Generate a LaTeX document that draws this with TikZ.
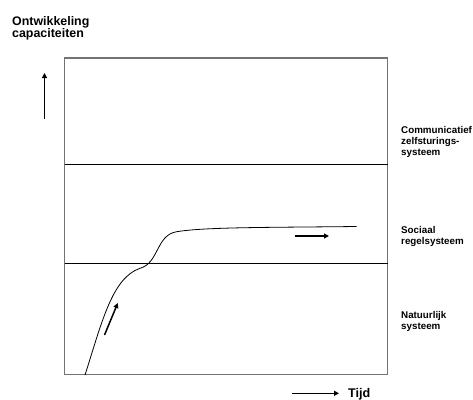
\documentclass[tikz,border=0pt]{standalone}
\usepackage{fontspec}
\setmainfont{Liberation Sans}
\usetikzlibrary{arrows.meta}
\begin{document}
\begin{tikzpicture}[x=1pt,y=-1pt,
  lbl/.style={font=\bfseries\fontsize{9.8}{11.3}\selectfont,align=left,anchor=north west,inner sep=0pt},
  bigl/.style={font=\bfseries\fontsize{12.4}{12}\selectfont,align=left,anchor=north west,inner sep=0pt},
  arr/.style={line width=1.5pt,-{Triangle[length=5pt,width=5pt]}},
  frame/.style={draw=black!55,line width=1.1pt},
  level/.style={draw=black,line width=0.9pt}]
\useasboundingbox (0,0) rectangle (473,399);
% frame
\coordinate (tl) at (64.5,58);
\coordinate (br) at (387.5,374.5);
\draw[frame] (tl) rectangle (br);
\coordinate (l1a) at (64.5,164);
\coordinate (l1b) at (387.5,164);
\coordinate (l2a) at (64.5,263);
\coordinate (l2b) at (387.5,263);
\draw[level] (l1a) -- (l1b);
\draw[level] (l2a) -- (l2b);
% curve
\coordinate (c0) at (85,375);
\coordinate (c1) at (140,268.3);
\coordinate (c2) at (176.7,231.7);
\coordinate (c3) at (356.7,226.5);
\draw[line width=0.8pt] (c0) .. controls (102,322) and (112,278) .. (c1)
  .. controls (159,263) and (156,235) .. (c2)
  .. controls (205,227) and (270,227.5) .. (c3);
% labels
\node[bigl] (ylab) at (12,16) {Ontwikkeling\\capaciteiten};
\node[lbl] (lab1) at (401,125.9) {Communicatief\\zelfsturings-\\systeem};
\node[lbl] (lab2) at (401,226.2) {Sociaal\\regelsysteem};
\node[lbl] (lab3) at (401,311.2) {Natuurlijk\\systeem};
\node[font=\bfseries\fontsize{12.6}{14}\selectfont,anchor=base west,inner sep=0pt] (tijd) at (348,397.3) {Tijd};
% arrows
\coordinate (ua) at (44.5,119);
\coordinate (ub) at (44.5,73);
\draw[arr] (ua) -- (ub);
\coordinate (ta) at (292,393.3);
\coordinate (tb) at (339,393.3);
\draw[arr] (ta) -- (tb);
\coordinate (ra) at (295,236);
\coordinate (rb) at (329,236);
\draw[arr] (ra) -- (rb);
\coordinate (sa) at (104.5,335);
\coordinate (sb) at (117.8,303);
\draw[arr] (sa) -- (sb);
\end{tikzpicture}
\end{document}
